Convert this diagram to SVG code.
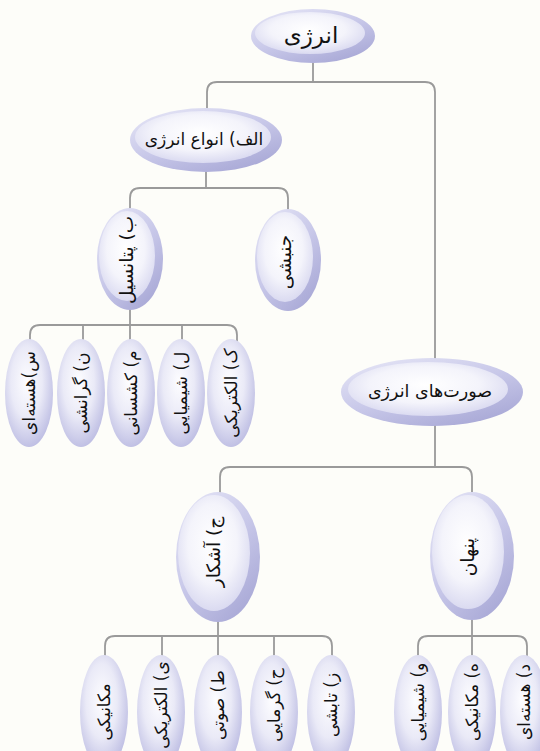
<svg xmlns="http://www.w3.org/2000/svg" width="540" height="751" viewBox="0 0 540 751">
<style>
.outer{fill:url(#og)}
.inner{fill:url(#ig)}
.leaf{fill:url(#lg)}
.lbl{font-family:"DejaVu Sans","Noto Sans",sans-serif;fill:#111111;text-anchor:middle}
.conn{fill:none;stroke:#9a9a9a;stroke-width:1.8}
</style>
<defs>
<linearGradient id="og" x1="0" y1="0" x2="0.7" y2="1">
<stop offset="0" stop-color="#e8e8f7"/>
<stop offset="0.55" stop-color="#c8c8e9"/>
<stop offset="1" stop-color="#aaaad7"/>
</linearGradient>
<radialGradient id="ig" cx="0.48" cy="0.42" r="0.62">
<stop offset="0" stop-color="#ffffff"/>
<stop offset="0.55" stop-color="#f4f4fb"/>
<stop offset="1" stop-color="#d6d6ef"/>
</radialGradient>
<radialGradient id="lg" cx="0.45" cy="0.4" r="0.65">
<stop offset="0" stop-color="#fdfdff"/>
<stop offset="0.5" stop-color="#eaeaf7"/>
<stop offset="1" stop-color="#b9b9e1"/>
</radialGradient>
</defs>
<rect width="540" height="751" fill="#fdfdf9"/>
<g id="connectors">
<path class="conn" d="M313,62 V82 M207,110 V92 Q207,82 217,82 H425 Q435,82 435,92 V360"/>
<path class="conn" d="M206,171 V188 M130,212 V198 Q130,188 140,188 H278 Q288,188 288,198 V212"/>
<path class="conn" d="M130,308 V342 M30,345 V335 Q30,325 40,325 H227 Q237,325 237,335 V345 M83,325 V342 M182,325 V342"/>
<path class="conn" d="M435,425 V467 M220,494 V477 Q220,467 230,467 H462 Q472,467 472,477 V494"/>
<path class="conn" d="M218,620 V658 M105,660 V646 Q105,636 115,636 H322 Q332,636 332,646 V660 M162,636 V658 M274,636 V658"/>
<path class="conn" d="M472,618 V658 M418,660 V646 Q418,636 428,636 H517 Q527,636 527,646 V660"/>
</g>
<g id="n-energy">
<ellipse class="outer" cx="313" cy="36" rx="62" ry="27"/>
<ellipse class="inner" cx="310" cy="33" rx="55" ry="21"/>
<text class="lbl" x="311" y="43" font-size="23">انرژی</text>
</g>
<g id="n-types">
<ellipse class="outer" cx="206" cy="140" rx="76" ry="32"/>
<ellipse class="inner" cx="203" cy="137" rx="68" ry="26"/>
<text class="lbl" x="204" y="145" font-size="17">الف) انواع انرژی</text>
</g>
<g id="n-potential">
<ellipse class="outer" cx="130" cy="259" rx="33" ry="51"/>
<ellipse class="inner" cx="127" cy="256" rx="28" ry="45"/>
<text class="lbl" font-size="18.5" transform="translate(127,260) rotate(-90)" y="6">ب) پتانسیل</text>
</g>
<g id="n-kinetic">
<ellipse class="outer" cx="288" cy="260" rx="33" ry="51"/>
<ellipse class="inner" cx="285" cy="257" rx="28" ry="45"/>
<text class="lbl" font-size="18.5" transform="translate(285,262) rotate(-90)" y="6">جنبشی</text>
</g>
<g id="n-nuclear1">
<ellipse class="leaf" cx="29" cy="393" rx="24" ry="54"/>
<text class="lbl" font-size="17" transform="translate(29,393) rotate(-90)" y="6">س)هسته‌ای</text>
</g>
<g id="n-gravity">
<ellipse class="leaf" cx="81" cy="393" rx="24" ry="54"/>
<text class="lbl" font-size="17" transform="translate(81,393) rotate(-90)" y="6">ن) گرانشی</text>
</g>
<g id="n-elastic">
<ellipse class="leaf" cx="131" cy="393" rx="24" ry="54"/>
<text class="lbl" font-size="17" transform="translate(131,393) rotate(-90)" y="6">م) کشسانی</text>
</g>
<g id="n-chemical1">
<ellipse class="leaf" cx="181" cy="393" rx="24" ry="54"/>
<text class="lbl" font-size="17" transform="translate(181,393) rotate(-90)" y="6">ل) شیمیایی</text>
</g>
<g id="n-electric1">
<ellipse class="leaf" cx="231" cy="393" rx="24" ry="54"/>
<text class="lbl" font-size="17" transform="translate(231,393) rotate(-90)" y="6">ک) الکتریکی</text>
</g>
<g id="n-forms">
<ellipse class="outer" cx="432" cy="392" rx="91" ry="34"/>
<ellipse class="inner" cx="428" cy="389" rx="80" ry="27"/>
<text class="lbl" x="430" y="397" font-size="17.5">صورت‌های انرژی</text>
</g>
<g id="n-visible">
<ellipse class="outer" cx="218" cy="557" rx="42" ry="65"/>
<ellipse class="inner" cx="214" cy="553" rx="36" ry="58"/>
<text class="lbl" font-size="18.5" transform="translate(214,552) rotate(-90)" y="6">ج) آشکار</text>
</g>
<g id="n-hidden">
<ellipse class="outer" cx="472" cy="556" rx="42" ry="64"/>
<ellipse class="inner" cx="468" cy="552" rx="36" ry="57"/>
<text class="lbl" font-size="18.5" transform="translate(468,557) rotate(-90)" y="6">پنهان</text>
</g>
<g id="n-mechanical1">
<ellipse class="leaf" cx="104" cy="712" rx="24" ry="57"/>
<text class="lbl" font-size="17" transform="translate(104,712) rotate(-90)" y="6">مکانیکی</text>
</g>
<g id="n-electric2">
<ellipse class="leaf" cx="161" cy="712" rx="24" ry="57"/>
<text class="lbl" font-size="17" transform="translate(161,705) rotate(-90)" y="6">ی) الکتریکی</text>
</g>
<g id="n-sound">
<ellipse class="leaf" cx="218" cy="712" rx="24" ry="57"/>
<text class="lbl" font-size="17" transform="translate(218,705) rotate(-90)" y="6">ط) صوتی</text>
</g>
<g id="n-thermal">
<ellipse class="leaf" cx="274" cy="712" rx="24" ry="57"/>
<text class="lbl" font-size="17" transform="translate(274,705) rotate(-90)" y="6">ح) گرمایی</text>
</g>
<g id="n-radiant">
<ellipse class="leaf" cx="331" cy="712" rx="24" ry="57"/>
<text class="lbl" font-size="17" transform="translate(331,705) rotate(-90)" y="6">ز) تابشی</text>
</g>
<g id="n-chemical2">
<ellipse class="leaf" cx="418" cy="712" rx="24" ry="57"/>
<text class="lbl" font-size="17" transform="translate(418,702) rotate(-90)" y="6">و) شیمیایی</text>
</g>
<g id="n-mechanical2">
<ellipse class="leaf" cx="472" cy="712" rx="24" ry="57"/>
<text class="lbl" font-size="17" transform="translate(472,702) rotate(-90)" y="6">ه) مکانیکی</text>
</g>
<g id="n-nuclear2">
<ellipse class="leaf" cx="524" cy="712" rx="24" ry="57"/>
<text class="lbl" font-size="17" transform="translate(524,702) rotate(-90)" y="6">د) هسته‌ای</text>
</g>
</svg>
